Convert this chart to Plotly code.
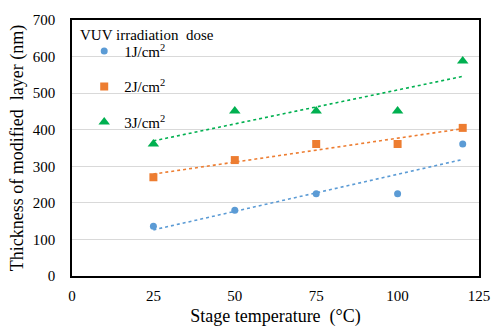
import numpy as np
import plotly.graph_objects as go

temps = [25, 50, 75, 100, 120]
dose_labels = ["1J/cm<sup>2</sup>", "2J/cm<sup>2</sup>", "3J/cm<sup>2</sup>"]
thick_1J = [136, 180, 225, 225, 361]
thick_2J = [270, 317, 361, 361, 405]
thick_3J = [361, 451, 451, 451, 588]
colors = ["#5B9BD5", "#ED7D31", "#00B050"]
symbols = ["circle", "square", "triangle-up"]
x_ticks = [0, 25, 50, 75, 100, 125]
y_ticks = [0, 100, 200, 300, 400, 500, 600, 700]

FONT = "Liberation Serif"

fig = go.Figure()
series = [thick_1J, thick_2J, thick_3J]
for i, ys in enumerate(series):
    k, b = np.polyfit(temps, ys, 1)
    xs = [temps[0], temps[-1]]
    fig.add_trace(go.Scatter(
        x=xs, y=[k * xs[0] + b, k * xs[1] + b], mode="lines", showlegend=False,
        line=dict(color=colors[i], width=1.6, dash="dot"), hoverinfo="skip",
    ))
for i, (lab, ys) in enumerate(zip(dose_labels, series)):
    fig.add_trace(go.Scatter(
        x=temps, y=ys, mode="markers", name=lab, legendgroup=f"g{i}",
        marker=dict(symbol=symbols[i], color=colors[i], size=[7, 8, 10][i]),
    ))

# white patch behind legend items (hides gridlines, stays under traces)
fig.add_shape(type="rect", xref="paper", yref="paper", layer="between",
              x0=0.042, x1=0.248, y0=0.55, y1=0.905,
              fillcolor="white", line=dict(width=0))

fig.add_annotation(text="VUV irradiation  dose", xref="paper", yref="paper",
                   x=0.015, y=0.94, xanchor="left", yanchor="middle", showarrow=False,
                   font=dict(family=FONT, size=15, color="black"))

fig.update_layout(
    width=502, height=335,
    margin=dict(l=72, r=23, t=14, b=54),
    paper_bgcolor="white", plot_bgcolor="white",
    font=dict(family=FONT, size=15, color="black"),
    showlegend=True,
    legend=dict(
        x=0.03, y=0.942, xanchor="left", yanchor="top",
        bgcolor="rgba(255,255,255,0)",
        font=dict(family=FONT, size=15),
        traceorder="grouped", tracegroupgap=13,
    ),
    xaxis=dict(
        range=[0, 125], tickvals=x_ticks, showgrid=False, zeroline=False,
        showline=True, linecolor="black", linewidth=1.5, mirror=True,
        ticks="outside", ticklen=5, tickcolor="rgba(0,0,0,0)",
        tickfont=dict(family=FONT, size=15),
        title=dict(text="Stage temperature  (°C)", font=dict(family=FONT, size=18), standoff=7),
    ),
    yaxis=dict(
        range=[0, 700], tickvals=y_ticks, showgrid=True, gridcolor="#D9D9D9", gridwidth=1,
        zeroline=False, showline=True, linecolor="black", linewidth=1.5, mirror=True,
        ticks="outside", ticklen=12, tickcolor="rgba(0,0,0,0)",
        tickfont=dict(family=FONT, size=15),
        title=dict(text="Thickness of modified  layer (nm)", font=dict(family=FONT, size=18), standoff=4),
    ),
)

fig.write_html("out.html")
